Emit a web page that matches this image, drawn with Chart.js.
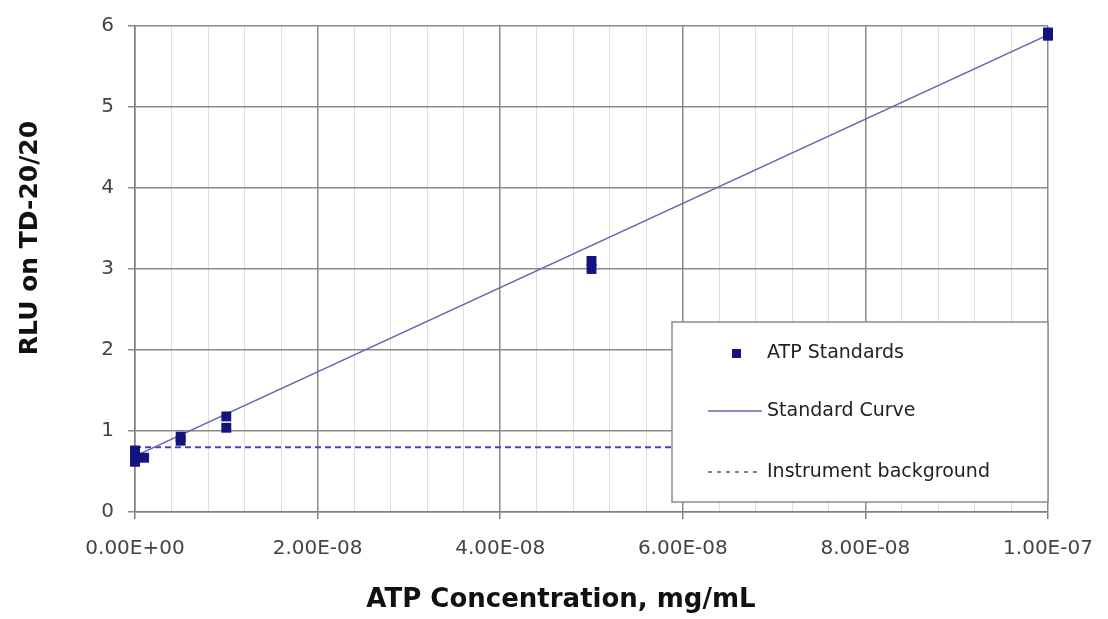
<!DOCTYPE html>
<html>
<head>
<meta charset="utf-8">
<script src="https://cdn.jsdelivr.net/npm/chart.js@4.4.0/dist/chart.umd.min.js"></script>
<style>
  html, body { margin: 0; padding: 0; background: #fff; }
</style>
</head>
<body>
<canvas id="atpChart" width="1108" height="619"></canvas>
<script>
// ATP standards (x = mg/mL, y = RLU)
var stdConc = [0, 0, 0, 1e-9, 5e-9, 5e-9, 1e-8, 1e-8, 5e-8, 5e-8, 1e-7, 1e-7];
var stdRlu  = [0.62, 0.70, 0.76, 0.67, 0.88, 0.93, 1.04, 1.18, 3.00, 3.10, 5.88, 5.92];

// Standard curve end points
var curveConc = [0, 1e-7];
var curveRlu  = [0.69, 5.89];

// Instrument background
var bgConc = [0, 1e-7];
var bgRlu  = [0.80, 0.80];

// Tick labels
var xTickLabels = ["0.00E+00", "2.00E-08", "4.00E-08", "6.00E-08", "8.00E-08", "1.00E-07"];
var seriesNames = ["ATP Standards", "Standard Curve", "Instrument background"];

function toPoints(xs, ys) {
  var pts = [];
  for (var i = 0; i < xs.length; i++) pts.push({x: xs[i], y: ys[i]});
  return pts;
}

var FONT = "'DejaVu Sans', sans-serif";

// legend box inside the plot + axis titles
var extras = {
  id: 'extras',
  afterDatasetsDraw: function(chart) {
    var ctx = chart.ctx, area = chart.chartArea;
    var w = 376, h = 180;
    var x = area.right - w, y = area.bottom - 10 - h;
    ctx.save();
    ctx.fillStyle = '#fff';
    ctx.strokeStyle = '#8c8c8c';
    ctx.lineWidth = 1.5;
    ctx.fillRect(x, y, w, h);
    ctx.strokeRect(x, y, w, h);

    var rows = [y + 31, y + 89, y + 150];
    // marker
    ctx.fillStyle = '#14147e';
    ctx.fillRect(x + 60, rows[0] - 4, 9, 9);
    // solid line
    ctx.strokeStyle = '#6a6ab0';
    ctx.lineWidth = 1.5;
    ctx.beginPath(); ctx.moveTo(x + 36, rows[1]); ctx.lineTo(x + 90, rows[1]); ctx.stroke();
    // dashed line
    ctx.strokeStyle = '#555577';
    ctx.setLineDash([4, 5]);
    ctx.beginPath(); ctx.moveTo(x + 36, rows[2]); ctx.lineTo(x + 90, rows[2]); ctx.stroke();
    ctx.setLineDash([]);

    ctx.fillStyle = '#222';
    ctx.font = "19px " + FONT;
    ctx.textBaseline = 'middle';
    ctx.textAlign = 'left';
    for (var i = 0; i < seriesNames.length; i++) {
      ctx.fillText(seriesNames[i], x + 95, rows[i]);
    }

    // axis titles
    ctx.fillStyle = '#111';
    ctx.font = "bold 26px " + FONT;
    ctx.textAlign = 'center';
    ctx.fillText("ATP Concentration, mg/mL", area.left + 426, 600);
    ctx.translate(30, area.top + 212);
    ctx.rotate(-Math.PI / 2);
    ctx.font = "bold 25px " + FONT;
    ctx.fillText("RLU on TD-20/20", 0, 0);
    ctx.restore();
  }
};

var chart = new Chart(document.getElementById("atpChart"), {
  type: 'scatter',
  data: {
    datasets: [
      {
        label: seriesNames[0],
        data: toPoints(stdConc, stdRlu),
        pointStyle: 'rect',
        pointRadius: 7,
        backgroundColor: '#14147e',
        borderColor: '#14147e',
        borderWidth: 0,
        clip: false,
        order: 1
      }, {
        label: seriesNames[1],
        type: 'line',
        data: toPoints(curveConc, curveRlu),
        borderColor: '#6a6ab0',
        borderWidth: 1.5,
        pointRadius: 0,
        fill: false,
        order: 2
      }, {
        label: seriesNames[2],
        type: 'line',
        data: toPoints(bgConc, bgRlu),
        borderColor: '#4444c0',
        borderWidth: 2,
        borderDash: [6, 4],
        pointRadius: 0,
        fill: false,
        order: 3
      }
    ]
  },
  options: {
    responsive: false,
    animation: false,
    layout: { padding: { left: 0, right: 60, top: 20, bottom: 0 } },
    plugins: {
      legend: { display: false },
      tooltip: { enabled: false }
    },
    scales: {
      x: {
        type: 'linear',
        min: 0,
        max: 1e-7,
        afterFit: function(scale) {
          scale.height = 107;
          scale.paddingRight = 40;
        },
        border: { color: '#808080', width: 1.5 },
        grid: {
          color: function(c) { return c.index % 5 === 0 ? '#8a8a8a' : '#dedede'; },
          lineWidth: function(c) { return c.index % 5 === 0 ? 1.5 : 1; },
          tickColor: function(c) { return c.index % 5 === 0 ? '#808080' : 'rgba(0,0,0,0)'; },
          tickLength: 7
        },
        ticks: {
          stepSize: 4e-9,
          autoSkip: false,
          maxRotation: 0,
          minRotation: 0,
          padding: 18,
          color: '#444',
          font: { family: FONT, size: 20 },
          callback: function(value, index) {
            return index % 5 === 0 ? xTickLabels[index / 5] : '';
          }
        }
      },
      y: {
        min: 0,
        max: 6,
        afterFit: function(scale) { scale.width = 135; },
        border: { color: '#808080', width: 1.5 },
        grid: { color: '#8a8a8a', lineWidth: 1.5, tickLength: 7 },
        ticks: {
          stepSize: 1,
          padding: 14,
          color: '#444',
          font: { family: FONT, size: 20 }
        }
      }
    }
  },
  plugins: [extras]
});
</script>
</body>
</html>
